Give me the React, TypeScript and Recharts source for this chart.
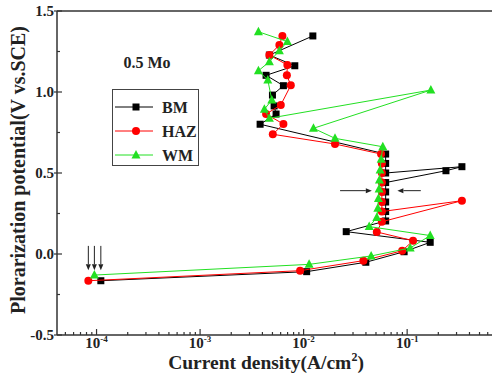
import React from 'react';
import { ScatterChart, Scatter, XAxis, YAxis, ReferenceLine } from 'recharts';

const seriesNames = ['BM', 'HAZ', 'WM'];
const seriesColors = ['#000000', '#ff0000', '#22e022'];

const bmData = [
  { x: 1.1e-4, y: -0.165 }, { x: 0.0107, y: -0.109 }, { x: 0.0399, y: -0.051 },
  { x: 0.0935, y: 0.014 }, { x: 0.167, y: 0.072 }, { x: 0.0258, y: 0.138 },
  { x: 0.062, y: 0.204 }, { x: 0.062, y: 0.262 }, { x: 0.062, y: 0.321 },
  { x: 0.062, y: 0.383 }, { x: 0.062, y: 0.441 }, { x: 0.237, y: 0.514 },
  { x: 0.338, y: 0.539 }, { x: 0.062, y: 0.5 }, { x: 0.062, y: 0.559 },
  { x: 0.062, y: 0.617 }, { x: 0.0038, y: 0.801 }, { x: 0.00542, y: 0.864 },
  { x: 0.00519, y: 0.914 }, { x: 0.005, y: 0.981 }, { x: 0.00638, y: 1.039 },
  { x: 0.00434, y: 1.103 }, { x: 0.00822, y: 1.162 }, { x: 0.00467, y: 1.228 },
  { x: 0.01228, y: 1.346 },
];

const hazData = [
  { x: 8.33e-5, y: -0.165 }, { x: 0.00925, y: -0.103 }, { x: 0.0378, y: -0.041 },
  { x: 0.0895, y: 0.02 }, { x: 0.114, y: 0.082 }, { x: 0.0509, y: 0.136 },
  { x: 0.057, y: 0.199 }, { x: 0.338, y: 0.329 }, { x: 0.057, y: 0.262 },
  { x: 0.057, y: 0.321 }, { x: 0.057, y: 0.383 }, { x: 0.057, y: 0.441 },
  { x: 0.057, y: 0.5 }, { x: 0.057, y: 0.559 }, { x: 0.056, y: 0.617 },
  { x: 0.0201, y: 0.679 }, { x: 0.00504, y: 0.739 }, { x: 0.00638, y: 0.802 },
  { x: 0.00434, y: 0.864 }, { x: 0.00602, y: 0.92 }, { x: 0.00752, y: 1.041 },
  { x: 0.00689, y: 1.103 }, { x: 0.00697, y: 1.167 }, { x: 0.00467, y: 1.228 },
  { x: 0.00583, y: 1.29 }, { x: 0.00624, y: 1.346 },
];

const wmData = [
  { x: 9.53e-5, y: -0.13 }, { x: 0.0113, y: -0.064 }, { x: 0.0449, y: -0.012 },
  { x: 0.107, y: 0.037 }, { x: 0.167, y: 0.114 }, { x: 0.043, y: 0.169 },
  { x: 0.0509, y: 0.225 }, { x: 0.0521, y: 0.282 }, { x: 0.0528, y: 0.343 },
  { x: 0.0536, y: 0.401 }, { x: 0.054, y: 0.457 }, { x: 0.0548, y: 0.519 },
  { x: 0.0561, y: 0.585 }, { x: 0.0582, y: 0.662 }, { x: 0.0201, y: 0.714 },
  { x: 0.01245, y: 0.776 }, { x: 0.1694, y: 1.012 }, { x: 0.00467, y: 0.838 },
  { x: 0.00418, y: 0.893 }, { x: 0.00493, y: 0.951 }, { x: 0.00451, y: 1.074 },
  { x: 0.00366, y: 1.131 }, { x: 0.00467, y: 1.187 }, { x: 0.00583, y: 1.255 },
  { x: 0.00697, y: 1.311 }, { x: 0.00366, y: 1.372 },
];

const xDomain = [4.15e-5, 0.66];
const yDomain = [-0.5, 1.5];
const xDecades = [-5, -4, -3, -2, -1, 0];
const xMinorMultipliers = [1, 2, 3, 4, 5, 6, 7, 8, 9];
const yTicks = [-0.5, -0.25, 0, 0.25, 0.5, 0.75, 1.0, 1.25, 1.5];

const downArrows = [
  { x1: 8.33e-5, y1: 0.05, x2: 8.33e-5, y2: -0.1 },
  { x1: 9.53e-5, y1: 0.05, x2: 9.53e-5, y2: -0.1 },
  { x1: 1.1e-4, y1: 0.05, x2: 1.1e-4, y2: -0.1 },
];
const sideArrows = [
  { x1: 0.0225, y1: 0.391, x2: 0.0456, y2: 0.391 },
  { x1: 0.1355, y1: 0.391, x2: 0.0805, y2: 0.391 },
];

const FONT = '"Liberation Serif", "Times New Roman", "DejaVu Serif", serif';
const AXIS = '#333';

const xTicks: number[] = [];
xDecades.forEach((d) => {
  xMinorMultipliers.forEach((m) => {
    const v = m * Math.pow(10, d);
    if (v >= xDomain[0] && v <= xDomain[1]) xTicks.push(v);
  });
});

const XTick = (props: any) => {
  const { x, y, payload } = props;
  const lg = Math.log10(payload.value);
  const major = Math.abs(lg - Math.round(lg)) < 1e-6;
  return (
    <g>
      <line x1={x} x2={x} y1={y} y2={y - (major ? 6 : 3)} stroke={AXIS} strokeWidth={1.2} />
      {major && (
        <text x={x} y={y + 12.5} textAnchor="middle" fontFamily={FONT} fontWeight="bold" fontSize={15} fill="#222">
          10<tspan dy={-6} fontSize={9}>{String(Math.round(lg))}</tspan>
        </text>
      )}
    </g>
  );
};

const YTick = (props: any) => {
  const { x, y, payload } = props;
  const v = payload.value;
  const major = Math.abs(v * 2 - Math.round(v * 2)) < 1e-6;
  return (
    <g>
      {major ? (
        <line x1={x - 3} x2={x + 5} y1={y} y2={y} stroke={AXIS} strokeWidth={1.2} />
      ) : (
        <line x1={x} x2={x + 3} y1={y} y2={y} stroke={AXIS} strokeWidth={1.2} />
      )}
      {major && (
        <text x={x - 3} y={y + 5} textAnchor="end" fontFamily={FONT} fontWeight="bold" fontSize={15} fill="#222">
          {v.toFixed(1)}
        </text>
      )}
    </g>
  );
};

const Square = (props: any) => (
  <rect x={props.cx - 3.5} y={props.cy - 3.5} width={7} height={7} fill={seriesColors[0]} />
);
const Dot = (props: any) => <circle cx={props.cx} cy={props.cy} r={4} fill={seriesColors[1]} />;
const Tri = (props: any) => (
  <polygon
    points={`${props.cx},${props.cy - 5} ${props.cx - 4.5},${props.cy + 3.5} ${props.cx + 4.5},${props.cy + 3.5}`}
    fill={seriesColors[2]}
  />
);

const Arrow = (props: any) => {
  const { x1, y1, x2, y2 } = props;
  const ang = Math.atan2(y2 - y1, x2 - x1);
  const L = 6;
  const W = 2.5;
  const bx = x2 - L * Math.cos(ang);
  const by = y2 - L * Math.sin(ang);
  const px = -Math.sin(ang) * W;
  const py = Math.cos(ang) * W;
  return (
    <g>
      <line x1={x1} y1={y1} x2={bx} y2={by} stroke="#222" strokeWidth={1} />
      <polygon points={`${x2},${y2} ${bx + px},${by + py} ${bx - px},${by - py}`} fill="#222" />
    </g>
  );
};

const legendShapes = [
  (cx: number, cy: number) => <rect x={cx - 3.5} y={cy - 3.5} width={7} height={7} fill={seriesColors[0]} />,
  (cx: number, cy: number) => <circle cx={cx} cy={cy} r={4} fill={seriesColors[1]} />,
  (cx: number, cy: number) => (
    <polygon points={`${cx},${cy - 5} ${cx - 4.5},${cy + 3.5} ${cx + 4.5},${cy + 3.5}`} fill={seriesColors[2]} />
  ),
];

export default function App() {
  return (
    <div style={{ position: 'absolute', left: 0, top: 0, width: 493, height: 375, background: '#fff' }}>
      <ScatterChart width={493} height={375} margin={{ top: 11, right: 1, bottom: 10, left: 7 }}>
        <XAxis
          type="number"
          dataKey="x"
          scale="log"
          domain={xDomain}
          allowDataOverflow
          ticks={xTicks}
          interval={0}
          tick={<XTick />}
          tickLine={false}
          tickSize={0}
          tickMargin={0}
          height={30}
          axisLine={{ stroke: AXIS, strokeWidth: 1.5 }}
        />
        <YAxis
          type="number"
          dataKey="y"
          domain={yDomain}
          allowDataOverflow
          ticks={yTicks}
          interval={0}
          tick={<YTick />}
          tickLine={false}
          tickSize={0}
          tickMargin={0}
          width={50}
          axisLine={{ stroke: AXIS, strokeWidth: 1.5 }}
        />
        <ReferenceLine y={1.5} stroke={AXIS} strokeWidth={1.5} />
        <Scatter
          name={seriesNames[0]}
          data={bmData}
          fill={seriesColors[0]}
          line={{ stroke: seriesColors[0], strokeWidth: 1 }}
          lineType="joint"
          shape={Square}
          isAnimationActive={false}
        />
        <Scatter
          name={seriesNames[1]}
          data={hazData}
          fill={seriesColors[1]}
          line={{ stroke: seriesColors[1], strokeWidth: 1 }}
          lineType="joint"
          shape={Dot}
          isAnimationActive={false}
        />
        <Scatter
          name={seriesNames[2]}
          data={wmData}
          fill={seriesColors[2]}
          line={{ stroke: seriesColors[2], strokeWidth: 1 }}
          lineType="joint"
          shape={Tri}
          isAnimationActive={false}
        />
        {downArrows.concat(sideArrows).map((a, i) => (
          <ReferenceLine
            key={'arr' + i}
            segment={[{ x: a.x1, y: a.y1 }, { x: a.x2, y: a.y2 }]}
            ifOverflow="visible"
            shape={Arrow}
          />
        ))}
      </ScatterChart>
      <svg
        width={493}
        height={375}
        style={{ position: 'absolute', left: 0, top: 0, pointerEvents: 'none' }}
      >
        <text
          transform="translate(25,170) rotate(-90)"
          textAnchor="middle"
          fontFamily={FONT}
          fontWeight="bold"
          fontSize={20}
          fill="#222"
        >
          Plorarization potential(V vs.SCE)
        </text>
        <text x={266} y={369} textAnchor="middle" fontFamily={FONT} fontWeight="bold" fontSize={19.5} fill="#222">
          Current density(A/cm<tspan dy={-8} fontSize={12}>2</tspan>
          <tspan dy={8}>)</tspan>
        </text>
        <text x={147} y={68} textAnchor="middle" fontFamily={FONT} fontWeight="bold" fontSize={16} fill="#222">
          0.5 Mo
        </text>
        <rect x={112.5} y={89.5} width={86} height={76} fill="#fff" stroke="#444" strokeWidth={1} />
        {seriesNames.map((n, i) => {
          const cy = 107 + i * 24;
          return (
            <g key={n}>
              <line x1={115} x2={153} y1={cy} y2={cy} stroke={seriesColors[i]} strokeWidth={1} />
              {legendShapes[i](136, cy)}
              <text x={162} y={cy + 5.5} fontFamily={FONT} fontWeight="bold" fontSize={16} fill="#222">
                {n}
              </text>
            </g>
          );
        })}
      </svg>
    </div>
  );
}
